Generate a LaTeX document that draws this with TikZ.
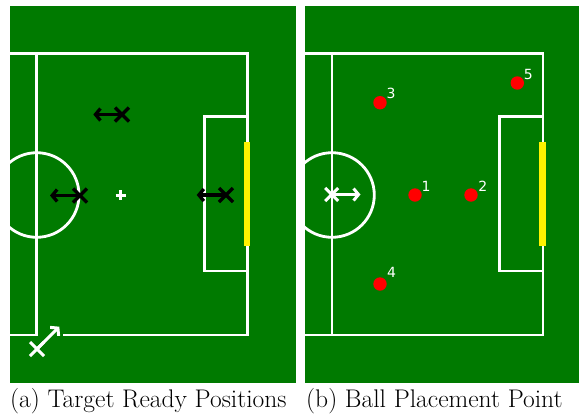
\documentclass[tikz,border=0pt]{standalone}
\usepackage{fontspec}
\newfontfamily\numfont{DejaVu Sans}
\usetikzlibrary{arrows.meta}
\definecolor{field}{RGB}{0,122,0}
\begin{document}
\begin{tikzpicture}[x=1pt,y=-1pt,
  fieldline/.style={white,line width=2.8pt},
  goalbar/.style={yellow,line width=6.6pt},
  blackmark/.style={black,line width=3.3pt},
  whitemark/.style={white,line width=3pt},
  tip/.style={-{Straight Barb[length=5pt,width=12pt]}},
  ball/.style={circle,fill=red,minimum size=13.4pt,inner sep=0pt},
  balllabel/.style={text=white,font=\numfont\fontsize{14}{16}\selectfont,inner sep=0pt},
  captext/.style={font=\fontsize{25.5}{30}\selectfont,inner sep=0pt,anchor=base west}]
\useasboundingbox (0,0) rectangle (579,418);
\fill[white] (0,0) rectangle (579,418);
% ---------- left panel ----------
\fill[field] (10,6) rectangle (296,383);
\begin{scope}
\clip (10,6) rectangle (296,383);
\draw[fieldline] (0,53.3) -- (247.7,53.3) -- (247.7,335) -- (63.3,335);
\draw[fieldline] (0,335) -- (38.3,335);
\draw[fieldline] (36.7,53.3) -- (36.7,335);
\draw[fieldline] (247.7,116.7) -- (204.3,116.7) -- (204.3,271) -- (247.7,271);
\draw[fieldline] (36.7,195) circle (42.3);
\draw[goalbar] (247,142.3) -- (247,245.7);
\end{scope}
% centre mark
\draw[whitemark] (115.5,195) -- (125.5,195) (120.5,190) -- (120.5,200);
% black ready markers
\coordinate (m1) at (122,114.5); \coordinate (t1) at (93.3,114.5);
\coordinate (m2) at (80,195.5);  \coordinate (t2) at (50,195.5);
\coordinate (m3) at (226,195);   \coordinate (t3) at (196.7,195);
\foreach \m/\t in {m1/t1,m2/t2,m3/t3}{
  \draw[blackmark,tip] (\m) -- (\t);
  \draw[blackmark] ([shift={(-7,-7)}]\m) -- ([shift={(7,7)}]\m)
                   ([shift={(-7,7)}]\m) -- ([shift={(7,-7)}]\m);
}
% white kick-off marker
\coordinate (m4) at (37,349); \coordinate (t4) at (59.3,326.7);
\draw[whitemark,tip] (m4) -- (t4);
\draw[whitemark] ([shift={(-7,-7)}]m4) -- ([shift={(7,7)}]m4)
                 ([shift={(-7,7)}]m4) -- ([shift={(7,-7)}]m4);
% ---------- right panel ----------
\fill[field] (305,6) rectangle (579,383);
\begin{scope}
\clip (305,6) rectangle (579,383);
\begin{scope}[xshift=295.3pt]
\draw[fieldline] (0,53.3) -- (247.7,53.3) -- (247.7,335) -- (0,335);
\draw[fieldline] (36.7,53.3) -- (36.7,335);
\draw[fieldline] (247.7,116.7) -- (204.3,116.7) -- (204.3,271) -- (247.7,271);
\draw[fieldline] (36.7,195) circle (42.3);
\draw[goalbar] (247,142.3) -- (247,245.7);
\end{scope}
\end{scope}
\coordinate (m5) at (331.7,194.5); \coordinate (t5) at (360.5,194.5);
\draw[whitemark,tip] (m5) -- (t5);
\draw[whitemark] ([shift={(-6.5,-6.5)}]m5) -- ([shift={(6.5,6.5)}]m5)
                 ([shift={(-6.5,6.5)}]m5) -- ([shift={(6.5,-6.5)}]m5);
% balls
\node[ball] (b1) at (415,195) {};
\node[ball] (b2) at (471,195) {};
\node[ball] (b3) at (380,102.7) {};
\node[ball] (b4) at (380,284) {};
\node[ball] (b5) at (517.3,83) {};
\node[balllabel] (l1) at (426,186) {1};
\node[balllabel] (l2) at (482.7,186) {2};
\node[balllabel] (l3) at (391,93.3) {3};
\node[balllabel] (l4) at (391.7,272.7) {4};
\node[balllabel] (l5) at (528.3,74.7) {5};
% captions
\node[captext] (capa) at (10,407) {(a) Target Ready Positions};
\node[captext] (capb) at (306,407) {(b) Ball Placement Point};
\end{tikzpicture}
\end{document}
